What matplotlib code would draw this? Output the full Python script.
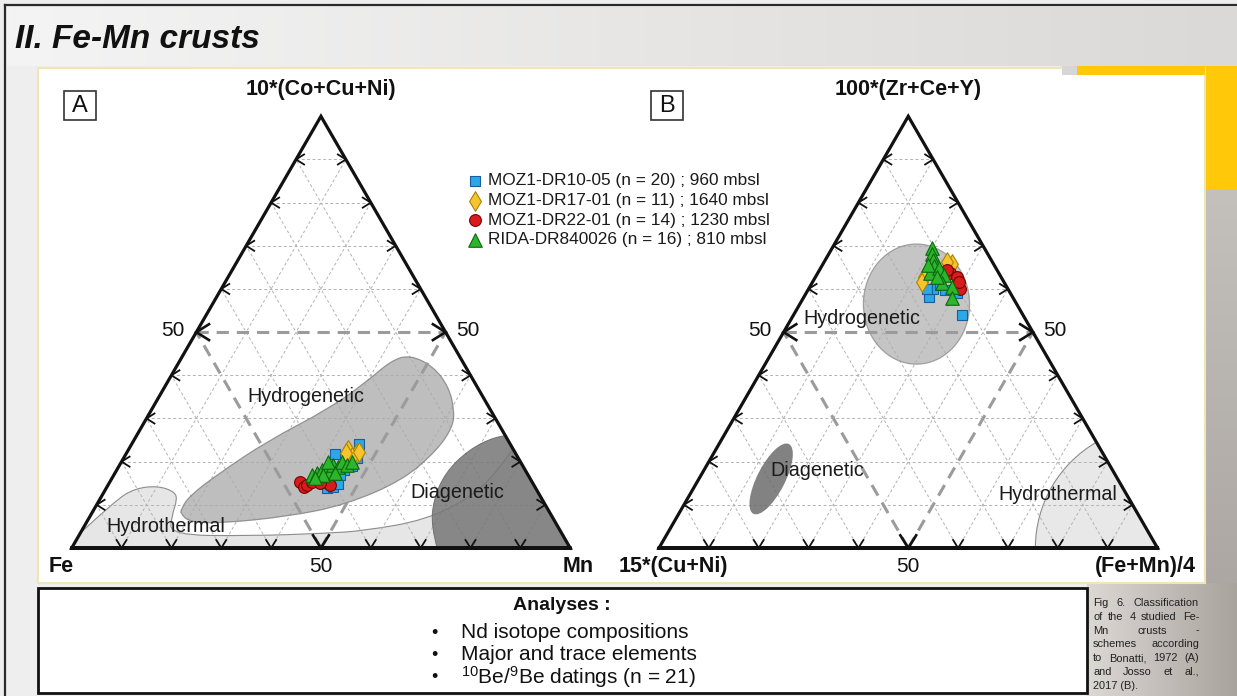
import numpy as np
import matplotlib
matplotlib.use("Agg")
import matplotlib.pyplot as plt
from matplotlib.patches import Rectangle, Ellipse, Wedge, PathPatch
from matplotlib.path import Path

plt.rcParams['font.family'] = ['Liberation Sans', 'DejaVu Sans']
plt.rcParams['mathtext.fontset'] = 'custom'
plt.rcParams['mathtext.rm'] = 'Liberation Sans'
plt.rcParams['mathtext.it'] = 'Liberation Sans:italic'
plt.rcParams['mathtext.bf'] = 'Liberation Sans:bold'

# ---------------------------------------------------------------------------
# Diagram A (Bonatti, 1972): Fe, Mn, 10*(Co+Cu+Ni), in % of the ternary sum
a_dr10_fe = [30.3, 36.4, 32.3, 34.8, 34.3, 41.9, 40.5, 39.1, 41.0, 36.4, 32.4, 37.7]
a_dr10_mn = [45.7, 41.9, 45.6, 45.2, 46.7, 44.3, 45.3, 46.1, 44.0, 45.5, 46.8, 45.4]
a_dr10_ccn = [24.0, 21.7, 22.1, 20.0, 19.0, 13.8, 14.2, 14.8, 15.0, 18.1, 20.8, 16.9]

a_dr17_fe = [33.1, 32.1, 33.3, 31.3, 34.0]
a_dr17_mn = [44.1, 46.2, 45.7, 46.4, 44.1]
a_dr17_ccn = [22.8, 21.7, 21.0, 22.3, 21.9]

a_dr22_fe = [46.6, 46.4, 45.5, 44.2, 40.8, 42.7]
a_dr22_mn = [38.1, 39.4, 39.9, 40.5, 44.6, 42.3]
a_dr22_ccn = [15.3, 14.2, 14.6, 15.3, 14.6, 15.0]

a_rida_fe = [43.4, 42.2, 40.8, 39.4, 39.3, 37.9, 37.1, 35.8, 35.2, 33.8, 41.1, 43.1, 38.5, 38.5]
a_rida_mn = [39.7, 40.5, 41.1, 41.8, 43.0, 42.9, 44.1, 44.2, 45.6, 46.2, 42.0, 40.8, 44.2, 41.5]
a_rida_ccn = [16.9, 17.3, 18.1, 18.8, 17.7, 19.2, 18.8, 20.0, 19.2, 20.0, 16.9, 16.1, 17.3, 20.0]

# Diagram B (Josso et al., 2017): 15*(Cu+Ni), (Fe+Mn)/4, 100*(Zr+Ce+Y), in %
b_dr10_cuni = [16.8, 14.9, 13.1, 16.2, 12.3, 10.7, 12.7]
b_dr10_femn = [25.0, 25.0, 26.0, 23.7, 33.8, 30.3, 27.6]
b_dr10_zcy = [58.2, 60.1, 60.9, 60.1, 53.9, 59.0, 59.7]

b_dr17_cuni = [8.3, 15.5, 16.5, 14.2, 9.1]
b_dr17_femn = [25.8, 21.7, 21.9, 21.8, 24.6]
b_dr17_zcy = [65.9, 62.8, 61.6, 64.0, 66.3]

b_dr22_cuni = [9.8, 8.8, 9.5, 9.1, 12.2, 10.0]
b_dr22_femn = [26.6, 28.4, 30.4, 29.3, 23.8, 25.6]
b_dr22_zcy = [63.6, 62.8, 60.1, 61.6, 64.0, 64.4]

b_rida_cuni = [10.5, 11.2, 11.7, 12.1, 13.8, 11.5, 11.3, 12.6, 11.0, 12.3, 12.8, 13.2]
b_rida_femn = [20.1, 20.7, 21.6, 22.6, 22.6, 23.7, 25.5, 26.1, 28.5, 29.9, 24.4, 21.3]
b_rida_zcy = [69.4, 68.1, 66.7, 65.3, 63.6, 64.8, 63.2, 61.3, 60.5, 57.8, 62.8, 65.5]

series_labels = ["MOZ1-DR10-05 (n = 20) ; 960 mbsl",
                 "MOZ1-DR17-01 (n = 11) ; 1640 mbsl",
                 "MOZ1-DR22-01 (n = 14) ; 1230 mbsl",
                 "RIDA-DR840026 (n = 16) ; 810 mbsl"]

# Field outlines, as (top %, right %) pairs
a_hydrogenetic = [(8.0, 17.9), (6.1, 20.4), (5.7, 26.7), (7.3, 39.8), (10.0, 49.9),
                  (15.7, 58.6), (22.7, 62.0), (28.1, 62.4), (31.9, 60.8), (37.3, 57.0),
                  (42.0, 51.6), (44.7, 45.6), (43.5, 42.4), (38.1, 39.7), (31.9, 35.1),
                  (25.0, 27.1), (17.3, 20.9), (11.9, 17.5), (8.8, 17.5)]
a_hydrothermal = [(3.5, 0.0), (11.1, 3.3), (13.8, 5.8), (14.4, 10.1), (13.0, 14.2),
                  (11.1, 15.6), (7.6, 16.3), (3.0, 18.2), (2.8, 34.4), (3.4, 49.3),
                  (4.0, 56.7), (6.5, 67.8), (11.9, 74.3), (18.1, 76.6), (23.0, 77.0)]
a_diagenetic = [(0.0, 73.3), (4.9, 69.7), (11.1, 67.0), (17.4, 66.2), (22.7, 68.2),
                (25.8, 72.0), (26.0, 74.0)]
b_hydrogenetic_centre = (56.5, 23.4)
b_diagenetic_centre = (16.0, 14.5)

# ---------------------------------------------------------------------------
W, H = 1237, 696
SIDE = 498.5          # triangle side, px
BASE_Y = 548          # triangle base, px from top
H3 = np.sqrt(3) / 2

fig = plt.figure(figsize=(W / 100, H / 100), dpi=100)

bg = fig.add_axes([0, 0, 1, 1], zorder=0)
ov = fig.add_axes([0, 0, 1, 1], zorder=5)
for a in (bg, ov):
    a.set_xlim(0, W)
    a.set_ylim(H, 0)
    a.axis('off')
    a.patch.set_alpha(0)


def rect(x0, y0, x1, y1, z=1, **kw):
    bg.add_patch(Rectangle((x0, y0), x1 - x0, y1 - y0, zorder=z, **kw))


def hgrad(x0, y0, x1, y1, c0, c1, z=1, vertical=False):
    t = np.linspace(0, 1, 256)[:, None]
    c0 = np.array(matplotlib.colors.to_rgb(c0))
    c1 = np.array(matplotlib.colors.to_rgb(c1))
    img = c0 * (1 - t) + c1 * t
    img = img[:, None, :] if vertical else img[None, :, :]
    bg.imshow(img, extent=(x0, x1, y1, y0), aspect='auto',
              interpolation='bilinear', zorder=z)


# slide background
rect(0, 0, W, H, z=0, facecolor='#eeeeee', edgecolor='none')
hgrad(7, 7, W, 66, '#f4f4f4', '#dbd9d7', z=0.5)
hgrad(1087, 583, W, H, '#dcd8d4', '#a9a39d', z=0.5)
hgrad(1205, 190, W, 583, '#c4c0bb', '#aca7a2', z=0.5, vertical=True)
rect(1077, 66, W, 190, z=0.8, facecolor='#ffc90a', edgecolor='none')
rect(38, 68, 1205, 583, z=1, facecolor='white', edgecolor='#efe5b5', lw=1.5)
rect(1077, 66, 1205, 75, z=1.2, facecolor='#ffc90a', edgecolor='none')
rect(1062, 66, 1077, 75, z=1.2, facecolor='#d8d6d4', edgecolor='none')
rect(38, 588, 1087, 693, z=1, facecolor='white', edgecolor='#111111', lw=2)
bg.plot([5, W], [5, 5], color='#2a2a2a', lw=1.6, zorder=2)
bg.plot([5, 5], [5, H], color='#2a2a2a', lw=1.6, zorder=2)
bg.set_xlim(0, W)
bg.set_ylim(H, 0)

ov.text(15, 48, "II. Fe-Mn crusts", fontsize=24, fontweight='bold',
        fontstyle='italic', va='baseline', ha='left', color='#111111')


def tri_axes(x0):
    ax = fig.add_axes([x0 / W, (H - BASE_Y) / H, SIDE / W, SIDE * H3 / H], zorder=1)
    ax.set_xlim(0, 1)
    ax.set_ylim(0, H3)
    ax.axis('off')
    ax.patch.set_alpha(0)
    return ax


def tern(left, right, top):
    left, right, top = (np.asarray(v, float) for v in (left, right, top))
    s = left + right + top
    r, t = right / s, top / s
    return r + t / 2, t * H3


def tern_rt(pairs):
    p = np.asarray(pairs, float) / 100
    return np.column_stack([p[:, 1] + p[:, 0] / 2, p[:, 0] * H3])


def draw_frame(ax):
    thin = dict(color='#b3b3b3', lw=0.7, ls=(0, (3, 2.5)), zorder=2)
    half = dict(color='#9b9b9b', lw=2.2, ls=(0, (4, 2.6)), zorder=3)
    for i in range(1, 10):
        f = i / 10
        kw = half if i == 5 else thin
        ax.plot([f / 2, 1 - f / 2], [f * H3, f * H3], **kw)
        ax.plot([f, f + (1 - f) / 2], [0, (1 - f) * H3], **kw)
        ax.plot([1 - f, (1 - f) / 2], [0, (1 - f) * H3], **kw)
    for i in range(1, 10):
        f = i / 10
        big = i == 5
        L = 0.030 if big else 0.019
        ang = np.deg2rad(32)
        dx, dy = L * np.cos(ang), L * np.sin(ang)
        kw = dict(color='#111111', lw=1.9 if big else 1.3, zorder=6,
                  solid_joinstyle='miter', clip_on=False)
        px, py = f / 2, f * H3
        ax.plot([px + dx, px, px + dx], [py + dy, py, py - dy], **kw)
        px = 1 - f / 2
        ax.plot([px - dx, px, px - dx], [py + dy, py, py - dy], **kw)
        px, py = f, 0
        ax.plot([px - dy, px, px + dy], [py + dx, py, py + dx], **kw)
    ax.plot([0, 1, 0.5, 0, 1], [0, 0, H3, 0, 0], color='#111111', lw=2.3, zorder=7,
            solid_joinstyle='miter', clip_on=False)


def field_patch(ax, curve, after, closed_curve=False, **kw):
    C = [tuple(p) for p in tern_rt(curve)]
    verts, codes = [], []
    if closed_curve:
        P = np.asarray(C)
        mids = (P + np.roll(P, -1, axis=0)) / 2
        verts.append(mids[-1]); codes.append(Path.MOVETO)
        for i in range(len(P)):
            verts += [P[i], mids[i]]
            codes += [Path.CURVE3, Path.CURVE3]
    else:
        verts.append(C[0]); codes.append(Path.MOVETO)
        n = len(C)
        for i in range(1, n - 1):
            end = C[n - 1] if i == n - 2 else ((C[i][0] + C[i + 1][0]) / 2,
                                              (C[i][1] + C[i + 1][1]) / 2)
            verts += [C[i], end]
            codes += [Path.CURVE3, Path.CURVE3]
        for p in tern_rt(after):
            verts.append(tuple(p)); codes.append(Path.LINETO)
    verts.append(verts[0]); codes.append(Path.CLOSEPOLY)
    ax.add_patch(PathPatch(Path(verts, codes), **kw))


styles = [dict(marker='s', s=62, c='#2aa8e8', edgecolors='#1d5c9c'),
          dict(marker='d', s=100, c='#f6c42c', edgecolors='#a9820a'),
          dict(marker='o', s=72, c='#d81c1c', edgecolors='#7a0000'),
          dict(marker='^', s=95, c='#2db52d', edgecolors='#0c680c')]

# ---------------------------- Diagram A ----------------------------------
axA = tri_axes(71.7)
field_patch(axA, a_hydrothermal, [(0, 100), (0, 0)],
            facecolor='#e6e6e6', edgecolor='#8c8c8c', lw=0.8, zorder=1)
field_patch(axA, a_hydrogenetic, None, closed_curve=True,
            facecolor='#a9a9a9', alpha=0.75, edgecolor='#7a7a7a', lw=0.9, zorder=2.5)
field_patch(axA, a_diagenetic, [(0, 100)],
            facecolor='#767676', alpha=0.85, edgecolor='#666666', lw=0.7, zorder=2.6)
draw_frame(axA)
for (fe, mn, ccn), st in zip([(a_dr10_fe, a_dr10_mn, a_dr10_ccn),
                              (a_dr17_fe, a_dr17_mn, a_dr17_ccn),
                              (a_dr22_fe, a_dr22_mn, a_dr22_ccn),
                              (a_rida_fe, a_rida_mn, a_rida_ccn)], styles):
    x, y = tern(fe, mn, ccn)
    axA.scatter(x, y, linewidths=0.8, zorder=8, **st)

# ---------------------------- Diagram B ----------------------------------
axB = tri_axes(659)
axB.add_patch(Wedge((1, 0), 0.245, 120, 180, facecolor='#e8e8e8',
                    edgecolor='#8c8c8c', lw=0.8, zorder=1))
cx, cy = tern_rt([b_hydrogenetic_centre])[0]
axB.add_patch(Ellipse((cx, cy), 0.213, 0.241, facecolor='#adadad', alpha=0.7,
                      edgecolor='#858585', lw=0.9, zorder=2.5))
cx, cy = tern_rt([b_diagenetic_centre])[0]
axB.add_patch(Ellipse((cx, cy), 0.157, 0.056, angle=63, facecolor='#6c6c6c',
                      alpha=0.85, edgecolor='none', zorder=2.6))
draw_frame(axB)
for (cn, fm, z), st in zip([(b_dr10_cuni, b_dr10_femn, b_dr10_zcy),
                            (b_dr17_cuni, b_dr17_femn, b_dr17_zcy),
                            (b_dr22_cuni, b_dr22_femn, b_dr22_zcy),
                            (b_rida_cuni, b_rida_femn, b_rida_zcy)], styles):
    x, y = tern(cn, fm, z)
    axB.scatter(x, y, linewidths=0.8, zorder=8, **st)

# ---------------------------- labels --------------------------------------
bold = dict(fontsize=15.5, fontweight='bold', color='#111111')
for txt, x in [("Fe", 61.5), ("Mn", 578.5), ("15*(Cu+Ni)", 673.5), ("(Fe+Mn)/4", 1145.5)]:
    ov.text(x, 572, txt, ha='center', va='baseline', **bold)
ov.text(320.5, 90, "10*(Co+Cu+Ni)", ha='center', va='center', **bold)
ov.text(908, 90, "100*(Zr+Ce+Y)", ha='center', va='center', **bold)
for x in (320.5, 908):
    ov.text(x, 572, "50", ha='center', va='baseline', fontsize=15, color='#111111')
for xl, xr in [(185, 456), (772, 1043.3)]:
    ov.text(xl, 331, "50", ha='right', va='center', fontsize=15, color='#111111')
    ov.text(xr, 331, "50", ha='left', va='center', fontsize=15, color='#111111')

for txt, x, y in [("Hydrogenetic", 306, 397), ("Diagenetic", 457, 493),
                  ("Hydrothermal", 165.5, 527), ("Hydrogenetic", 861.5, 318),
                  ("Diagenetic", 817, 471), ("Hydrothermal", 1057.6, 495)]:
    ov.text(x, y, txt, ha='center', va='center', fontsize=14.2, color='#1a1a1a')

for txt, x0 in [("A", 64), ("B", 651)]:
    ov.add_patch(Rectangle((x0, 91), 32, 29, facecolor='white', edgecolor='#333333',
                           lw=1.2, zorder=3))
    ov.text(x0 + 16, 106, txt, ha='center', va='center', fontsize=17, color='#111111',
            zorder=4)

# legend
for k, (lab, st) in enumerate(zip(series_labels, styles)):
    y = 181 + k * 19.5
    ov.scatter([475], [y], linewidths=0.8, **st)
    ov.text(488, y, lab, ha='left', va='center', fontsize=12.4, color='#1a1a1a')

# analyses box
ov.text(562, 606, "Analyses :", ha='center', va='center', fontsize=14,
        fontweight='bold', color='#111111')
analyses = ["Nd isotope compositions", "Major and trace elements",
            r"$^{10}$Be/$^{9}$Be datings (n = 21)"]
for k, item in enumerate(analyses):
    y = 633 + k * 22
    ov.text(434, y, "\u2022", ha='center', va='center', fontsize=13, color='#111111')
    ov.text(461, y, item, ha='left', va='center', fontsize=15, color='#111111')

# caption, justified in a narrow column
caption = ["Fig 6. Classification", "of the 4 studied Fe-", "Mn crusts -",
           "schemes according", "to Bonatti, 1972 (A)", "and Josso et al.,",
           "2017 (B)."]
renderer = fig.canvas.get_renderer()
cx0, cx1 = 1093, 1199
for k, line in enumerate(caption):
    y = 603 + k * 13.8
    words = line.split()
    if k == len(caption) - 1 or len(words) == 1:
        ov.text(cx0, y, line, ha='left', va='center', fontsize=7.9, color='#222222')
        continue
    texts = [ov.text(0, y, w, ha='left', va='center', fontsize=7.9, color='#222222')
             for w in words]
    widths = [t.get_window_extent(renderer).width for t in texts]
    gap = (cx1 - cx0 - sum(widths)) / (len(words) - 1)
    x = cx0
    for t, w in zip(texts, widths):
        t.set_x(x)
        x += w + gap

fig.savefig("out.png", dpi=100)
